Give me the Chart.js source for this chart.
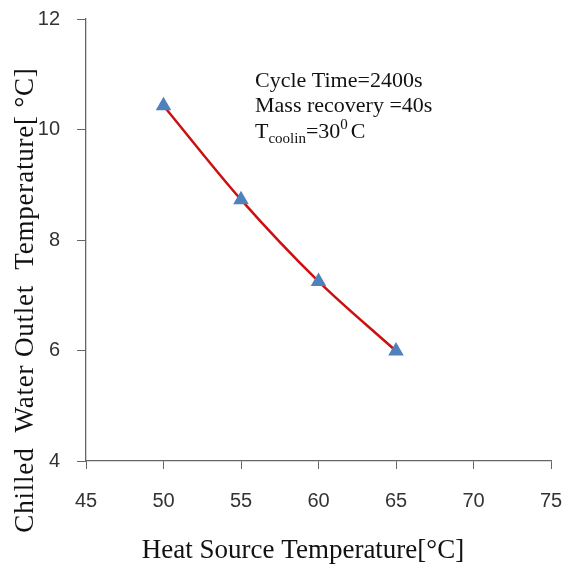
<!DOCTYPE html>
<html>
<head>
<meta charset="utf-8">
<script src="https://cdn.jsdelivr.net/npm/chart.js@4.4.1/dist/chart.umd.min.js"></script>
<style>
    html, body { margin: 0; padding: 0; background: #fff; }
    #wrap { width: 575px; height: 569px; position: relative; }
</style>
</head>
<body>
<div id="wrap"><canvas id="tempChart" width="575" height="569"></canvas></div>
<script>
// ===== DATI =====
const heatSource = [50, 55, 60, 65];          // Heat source temperature [°C]
const chilledOut = [10.43, 8.73, 7.25, 5.99]; // Chilled water outlet [°C]
const xTicks = [45, 50, 55, 60, 65, 70, 75];
const yTicks = [4, 6, 8, 10, 12];

const xTitle = 'Heat Source Temperature[\u00B0C]';
const yTitle = 'Chilled  Water Outlet  Temperature[ \u00B0C]';
const noteLines = ['Cycle Time=2400s', 'Mass recovery =40s'];

const SERIF = "'Times New Roman', 'Liberation Serif', serif";
const AXIS_COLOR = '#666';

// Titoli e annotazioni disegnati a mano
const textPlugin = {
    id: 'textPlugin',
    afterDraw(chart) {
        const ctx = chart.ctx;
        ctx.save();
        ctx.fillStyle = '#111';
        ctx.textBaseline = 'alphabetic';

        // titolo asse X
        ctx.font = '27px ' + SERIF;
        ctx.textAlign = 'center';
        ctx.fillText(xTitle, 303, 558);

        // titolo asse Y (ruotato, un po' spaziato)
        ctx.save();
        ctx.translate(33, 300);
        ctx.rotate(-Math.PI / 2);
        ctx.letterSpacing = '0.8px';
        ctx.fillText(yTitle, 0, 0);
        ctx.restore();

        // annotazione
        ctx.textAlign = 'left';
        ctx.font = '22px ' + SERIF;
        ctx.fillText(noteLines[0], 255, 87);
        ctx.fillText(noteLines[1], 255, 112);

        let x = 255;
        const y = 138;
        ctx.fillText('T', x, y);
        x += ctx.measureText('T').width;
        ctx.font = '15px ' + SERIF;
        ctx.fillText('coolin', x, y + 5);
        x += ctx.measureText('coolin').width;
        ctx.font = '22px ' + SERIF;
        ctx.fillText('=30', x, y);
        x += ctx.measureText('=30').width;
        ctx.font = '15px ' + SERIF;
        ctx.fillText('0', x, y - 9);
        x += ctx.measureText('0').width + 3;
        ctx.font = '22px ' + SERIF;
        ctx.fillText('C', x, y);

        ctx.restore();
    }
};

const ctx = document.getElementById('tempChart');

new Chart(ctx, {
    type: 'line',
    data: {
        datasets: [{
            label: 'Chilled Water Outlet',
            data: heatSource.map((x, i) => ({ x: x, y: chilledOut[i] })),
            borderColor: '#CC1010',
            borderWidth: 2.5,
            cubicInterpolationMode: 'monotone',
            pointStyle: 'triangle',
            pointRadius: 9,
            pointBackgroundColor: '#4F81BD',
            pointBorderColor: '#4F81BD',
            pointBorderWidth: 0,
            fill: false
        }]
    },
    options: {
        responsive: false,
        animation: false,
        devicePixelRatio: 1,
        layout: {
            padding: { top: 19, right: 24, left: 0, bottom: 0 }
        },
        plugins: {
            legend: { display: false },
            tooltip: { enabled: false }
        },
        scales: {
            x: {
                type: 'linear',
                min: xTicks[0],
                max: xTicks[xTicks.length - 1],
                afterBuildTicks(scale) {
                    scale.ticks = xTicks.map(v => ({ value: v }));
                },
                afterFit(scale) {
                    scale.height = 108;
                    scale.paddingLeft = 0;
                    scale.paddingRight = 0;
                },
                grid: {
                    drawOnChartArea: false,
                    drawTicks: true,
                    tickLength: 8,
                    color: AXIS_COLOR
                },
                border: { display: true, color: AXIS_COLOR, width: 1.3 },
                ticks: {
                    padding: 20,
                    color: '#333',
                    font: { family: "'Liberation Sans', Arial, sans-serif", size: 20 }
                }
            },
            y: {
                type: 'linear',
                min: yTicks[0],
                max: yTicks[yTicks.length - 1],
                afterBuildTicks(scale) {
                    scale.ticks = yTicks.map(v => ({ value: v }));
                },
                afterFit(scale) {
                    scale.width = 86;
                    scale.paddingTop = 0;
                    scale.paddingBottom = 0;
                },
                grid: {
                    drawOnChartArea: false,
                    drawTicks: true,
                    tickLength: 9,
                    color: AXIS_COLOR
                },
                border: { display: true, color: AXIS_COLOR, width: 1.3 },
                ticks: {
                    padding: 17,
                    color: '#333',
                    font: { family: "'Liberation Sans', Arial, sans-serif", size: 20 }
                }
            }
        }
    },
    plugins: [textPlugin]
});
</script>
</body>
</html>
